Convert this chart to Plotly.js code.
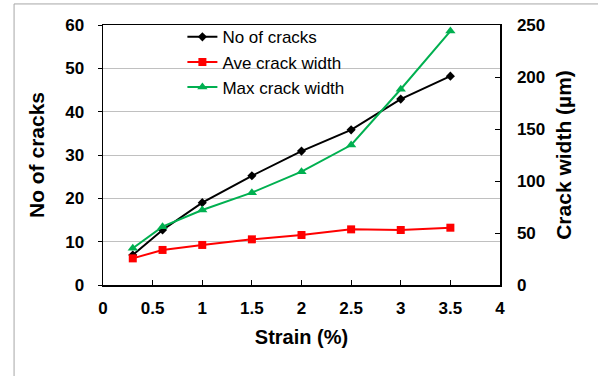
<!DOCTYPE html>
<html><head><meta charset="utf-8">
<script src="https://cdn.plot.ly/plotly-3.0.1.min.js"></script>
<style>html,body{margin:0;padding:0;background:#fff}#chart{width:598px;height:376px}</style>
</head><body><div id="chart"></div>
<script>
const strain = [0.3, 0.6, 1, 1.5, 2, 2.5, 3, 3.5];
const noOfCracks = [6.9, 12.7, 19.0, 25.2, 30.9, 35.8, 42.9, 48.2];
const aveCrackWidth = [25.6, 33.7, 38.5, 43.9, 48.1, 53.5, 52.9, 55.1];
const maxCrackWidth = [35.3, 56.1, 72.1, 88.8, 109, 134.6, 188.2, 244.2];
const seriesNames = ["No of cracks", "Ave crack width", "Max crack width"];

const FONT = "Liberation Sans, Arial, sans-serif";
const traces = [
  {x: strain, y: noOfCracks, name: seriesNames[0], type: "scatter", mode: "lines+markers",
   line: {color: "#000000", width: 2}, marker: {symbol: "diamond", size: 7, color: "#000000"}},
  {x: strain, y: aveCrackWidth, name: seriesNames[1], type: "scatter", mode: "lines+markers", yaxis: "y2",
   line: {color: "#ff0000", width: 2}, marker: {symbol: "square", size: 8, color: "#ff0000"}},
  {x: strain, y: maxCrackWidth, name: seriesNames[2], type: "scatter", mode: "lines+markers", yaxis: "y2",
   line: {color: "#00b050", width: 2}, marker: {symbol: "triangle-up", size: 9, color: "#00b050"}}
];
const tickFont = {family: FONT, size: 17, color: "#000", weight: "bold"};
const xTitleFont = {family: FONT, size: 20, color: "#000", weight: "bold"};
const yTitleFont = {family: FONT, size: 21, color: "#000", weight: "bold"};
const layout = {
  width: 598, height: 376,
  margin: {l: 103, r: 98, t: 25, b: 91},
  paper_bgcolor: "#fff", plot_bgcolor: "#fff",
  showlegend: true,
  legend: {x: 0.2, y: 1.022, xanchor: "left", yanchor: "top", bgcolor: "rgba(0,0,0,0)",
           font: {family: FONT, size: 17, color: "#000"}, tracegroupgap: 0, itemwidth: 30},
  xaxis: {range: [0, 4], dtick: 0.5, tick0: 0, showgrid: false, zeroline: false,
          showline: true, linecolor: "#000", linewidth: 1.5, mirror: true,
          ticks: "inside", ticklen: 5, tickcolor: "#000", tickfont: tickFont, ticklabelstandoff: 7,
          title: {text: "Strain (%)", font: xTitleFont, standoff: 13}},
  yaxis: {range: [0, 60], dtick: 10, showgrid: true, gridcolor: "#c0c0c0", gridwidth: 1, zeroline: false,
          showline: true, linecolor: "#000", linewidth: 1.5, mirror: true,
          ticks: "outside", ticklen: 4, tickcolor: "#000", tickfont: tickFont, ticklabelstandoff: 10,
          title: {text: "No of cracks", font: yTitleFont, standoff: 15}},
  yaxis2: {range: [0, 250], dtick: 50, overlaying: "y", side: "right", showgrid: false, zeroline: false,
           showline: true, linecolor: "#000", linewidth: 1.5,
           ticks: "inside", ticklen: 5, tickcolor: "#000", tickfont: tickFont, ticklabelstandoff: 12,
           title: {text: "Crack width (µm)", font: yTitleFont, standoff: 12}},
  shapes: [{type: "rect", xref: "paper", yref: "paper", x0: -0.224, x1: 1.26, y0: -0.37, y1: 1.081,
            line: {color: "#a6a6a6", width: 1}, fillcolor: "rgba(0,0,0,0)", layer: "below"}]
};
Plotly.newPlot("chart", traces, layout, {displayModeBar: false, staticPlot: true});
</script></body></html>
